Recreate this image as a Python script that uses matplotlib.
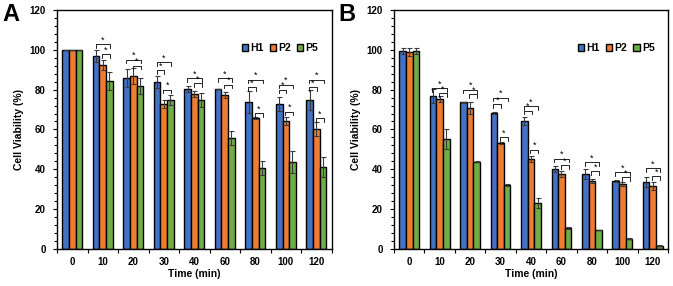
import numpy as np
import matplotlib.pyplot as plt
from matplotlib.ticker import MultipleLocator

times = ["0", "10", "20", "30", "40", "60", "80", "100", "120"]
series = ["H1", "P2", "P5"]

# panel A
a_h1 = [100, 96.7, 86.0, 83.6, 80.4, 80.4, 73.7, 72.7, 74.6]
a_p2 = [100, 92.3, 86.6, 72.9, 77.8, 77.4, 65.7, 64.4, 60.4]
a_p5 = [100, 84.1, 82.0, 74.6, 74.6, 55.5, 40.6, 43.6, 41.0]
a_h1_err = [0, 3.0, 4.5, 3.0, 1.5, 0, 5.5, 3.5, 5.0]
a_p2_err = [0, 2.5, 4.0, 2.0, 1.5, 1.5, 0.5, 2.0, 3.5]
a_p5_err = [0, 4.5, 4.0, 2.5, 3.5, 3.5, 3.5, 5.5, 5.0]
# (group, bar from, bar to, bracket height)
a_sig = [(1, 0, 2, 102.8), (1, 1, 2, 97.8),
         (2, 0, 2, 95.0), (2, 1, 2, 92.0),
         (3, 0, 2, 93.6), (3, 0, 1, 89.6), (3, 1, 2, 80.0),
         (4, 0, 2, 85.8), (4, 1, 2, 83.3),
         (5, 0, 2, 85.8), (5, 1, 2, 82.4),
         (6, 0, 2, 85.0), (6, 0, 1, 81.3), (6, 1, 2, 68.2),
         (7, 0, 2, 82.4), (7, 0, 1, 80.0), (7, 1, 2, 69.0),
         (8, 0, 2, 85.0), (8, 0, 1, 81.3), (8, 1, 2, 65.7)]

# panel B
b_h1 = [99.2, 76.6, 73.6, 68.2, 64.0, 40.3, 37.6, 33.9, 33.4]
b_p2 = [98.8, 75.3, 70.7, 53.2, 45.3, 37.8, 34.3, 32.8, 31.8]
b_p5 = [99.2, 55.2, 43.8, 32.1, 23.2, 10.5, 9.5, 5.2, 1.7]
b_h1_err = [1.5, 3.5, 0.3, 0.5, 2.0, 1.5, 2.5, 0.5, 2.5]
b_p2_err = [2.0, 1.5, 3.0, 0.3, 1.5, 1.5, 1.0, 1.0, 2.0]
b_p5_err = [1.5, 5.0, 0.3, 0.5, 2.5, 0.3, 0.0, 0.3, 0.3]
b_sig = [(1, 0, 2, 80.8), (1, 1, 2, 78.3),
         (2, 0, 2, 80.0), (2, 1, 2, 77.8),
         (3, 0, 2, 76.0), (3, 0, 1, 72.7), (3, 1, 2, 56.2),
         (4, 0, 2, 71.6), (4, 0, 1, 69.4), (4, 1, 2, 49.8),
         (5, 0, 2, 45.3), (5, 1, 2, 42.0),
         (6, 0, 2, 43.5), (6, 1, 2, 39.0),
         (7, 0, 2, 38.5), (7, 1, 2, 36.0),
         (8, 0, 2, 40.6), (8, 1, 2, 36.5)]

colors = ["#4472C4", "#ED7D31", "#70AD47"]
plt.rcParams['font.family'] = ['Liberation Sans', 'DejaVu Sans']
plt.rcParams['font.weight'] = 'bold'

fig = plt.figure(figsize=(6.73, 2.86), dpi=100)
ax_a = fig.add_axes([0.0847, 0.1294, 0.408, 0.836])
ax_b = fig.add_axes([0.5854, 0.1294, 0.4072, 0.836])

w = 0.217
offs = [-w, 0, w]


def draw(ax, vals, errs, sig):
    x = np.arange(len(times))
    for k in range(3):
        ax.bar(x + offs[k], vals[k], w, color=colors[k], edgecolor="black",
               linewidth=1.0, label=series[k], zorder=2)
        ax.errorbar(x + offs[k], vals[k], yerr=errs[k], fmt="none",
                    ecolor="#3a3a3a", elinewidth=0.8, capsize=1.8,
                    capthick=0.8, zorder=3)
    for g, i, j, h in sig:
        x0 = g + offs[i] - 0.02
        x1 = g + offs[j] + 0.02
        ax.plot([x0, x0, x1, x1], [h - 1.8, h, h, h - 1.8], color="black",
                lw=0.6, zorder=4)
        ax.text((x0 + x1) / 2, h - 0.2, "*", ha="center", va="bottom",
                fontsize=6.5, fontweight="normal", zorder=4)
    ax.set_xlim(-0.5, len(times) - 0.5)
    ax.set_ylim(0, 120)
    ax.yaxis.set_major_locator(MultipleLocator(20))
    ax.yaxis.set_minor_locator(MultipleLocator(4))
    ax.set_xticks(x)
    ax.set_xticklabels(times)
    ax.set_xticks(np.arange(-0.5, len(times)), minor=True)
    ax.tick_params(axis="x", which="major", length=0, pad=6, labelsize=7)
    ax.tick_params(axis="x", which="minor", length=3, width=0.8)
    ax.tick_params(axis="y", which="major", length=3, width=0.8, labelsize=7, pad=5)
    ax.tick_params(axis="y", which="minor", length=2, width=0.8)
    for s in ax.spines.values():
        s.set_linewidth(1.0)
    ax.set_xlabel("Time (min)", fontsize=7.5, fontweight="bold", labelpad=1)
    ax.set_ylabel("Cell Viability (%)", fontsize=7.5, fontweight="bold", labelpad=4)
    ax.legend(loc="upper right", ncol=3, frameon=False,
              handlelength=0.6, handleheight=0.6, handletextpad=0.2,
              columnspacing=0.6, bbox_to_anchor=(0.985, 0.9),
              prop={"weight": "bold", "size": 7.5})


draw(ax_a, [a_h1, a_p2, a_p5], [a_h1_err, a_p2_err, a_p5_err], a_sig)
draw(ax_b, [b_h1, b_p2, b_p5], [b_h1_err, b_p2_err, b_p5_err], b_sig)

fig.text(0.003, 0.95, "A", fontsize=17, fontweight="bold", va="center", ha="left")
fig.text(0.503, 0.95, "B", fontsize=17, fontweight="bold", va="center", ha="left")

fig.savefig("out.png", dpi=100)
